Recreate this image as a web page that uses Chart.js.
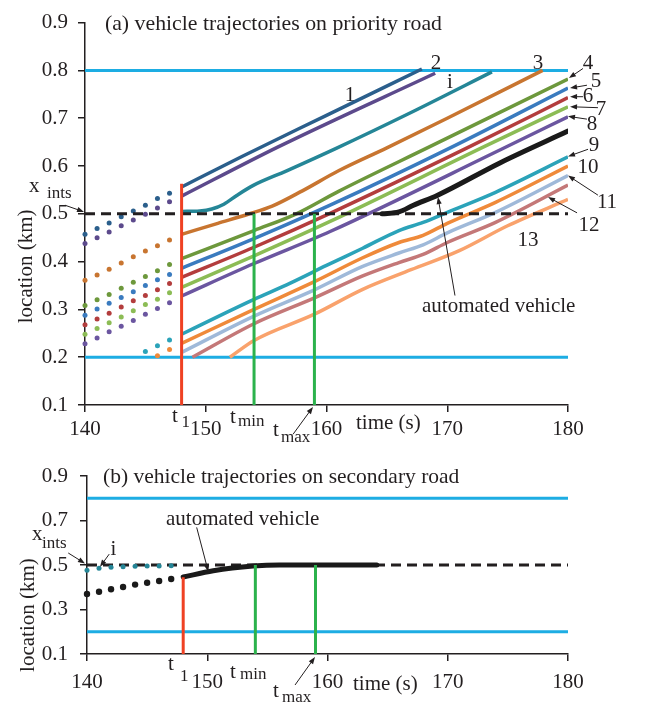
<!DOCTYPE html>
<html>
<head>
<meta charset="utf-8">
<script src="https://cdn.jsdelivr.net/npm/chart.js@4/dist/chart.umd.min.js"></script>
<style>
  body { margin: 0; background: #fff; }
  .panel { position: absolute; left: 0; }
  canvas { display: block; }
</style>
</head>
<body>
<div class="panel" style="top:0"><canvas id="priority" width="649" height="452"></canvas></div>
<div class="panel" style="top:440px"><canvas id="secondary" width="649" height="264"></canvas></div>
<script>
// time axis and location ticks
const xTicks = [140, 150, 160, 170, 180];
const yTicksTop = [0.1, 0.2, 0.3, 0.4, 0.5, 0.6, 0.7, 0.8, 0.9];
const yTicksBot = [0.1, 0.3, 0.5, 0.7, 0.9];

const tStart = 140, tEnd = 180;
const xInts = 0.5, roadIn = 0.2, roadOut = 0.8;
const t1 = 148, tMin = 154, tMax = 159;
const t1TopReach = 0.563, t1BotReach = 0.445;

// dotted history before t1 (one per second)
const dotTimes = [140, 141, 142, 143, 144, 145, 146, 147];
const dots1 = [0.457, 0.469, 0.481, 0.494, 0.506, 0.518, 0.532, 0.543];
const dots2 = [0.438, 0.450, 0.462, 0.475, 0.487, 0.499, 0.512, 0.525];
const dots3 = [0.361, 0.372, 0.384, 0.397, 0.410, 0.422, 0.433, 0.445];
const dots4 = [0.308, 0.320, 0.331, 0.344, 0.357, 0.369, 0.381, 0.394];
const dots5 = [0.288, 0.301, 0.313, 0.325, 0.337, 0.350, 0.362, 0.373];
const dots6 = [0.268, 0.280, 0.292, 0.305, 0.318, 0.329, 0.341, 0.354];
const dots7 = [0.248, 0.260, 0.272, 0.284, 0.297, 0.310, 0.321, 0.335];
const dots8 = [0.228, 0.240, 0.253, 0.265, 0.277, 0.290, 0.302, 0.314];
const dots9 = [null, null, null, null, null, 0.212, 0.224, 0.236];
const dots10 = [null, null, null, null, null, null, 0.203, 0.216];
const dotsI = [0.476, 0.485, 0.490, 0.492, 0.494, 0.495, 0.496, 0.497];
const dotsAV = [0.370, 0.380, 0.391, 0.401, 0.412, 0.420, 0.428, 0.437];

// trajectories after t1 (priority road)
const tr1T = [148, 153, 160, 167.9];            const tr1Y = [0.556, 0.620, 0.706, 0.803];
const tr2T = [148, 156, 169];                   const tr2Y = [0.537, 0.640, 0.794];
const trIT = [148, 149.5, 150.5, 151.5, 152.6, 153.9, 156.7, 160.8, 167, 173.7];
const trIY = [0.505, 0.506, 0.510, 0.520, 0.539, 0.559, 0.590, 0.637, 0.712, 0.797];
const tr3T = [148, 151, 153.5, 155.5, 158, 161, 165, 170, 177.9];
const tr3Y = [0.457, 0.480, 0.499, 0.516, 0.548, 0.590, 0.638, 0.700, 0.800];
const tr4T = [148, 154, 157.5, 161, 168.6, 180]; const tr4Y = [0.406, 0.465, 0.500, 0.547, 0.641, 0.782];
const tr5T = [148, 154, 160.3, 170.5, 180];     const tr5Y = [0.386, 0.448, 0.518, 0.641, 0.763];
const tr6T = [148, 154, 160.3, 171.9, 180];     const tr6Y = [0.367, 0.430, 0.501, 0.641, 0.743];
const tr7T = [148, 154, 160.3, 173.1, 180];     const tr7Y = [0.346, 0.412, 0.484, 0.641, 0.724];
const tr8T = [148, 154, 160.3, 174.4, 180];     const tr8Y = [0.328, 0.396, 0.463, 0.634, 0.703];
const trAVT = [164.6, 166, 167.2, 169.2, 174.4, 180];
const trAVY = [0.500, 0.504, 0.518, 0.539, 0.607, 0.673];
const tr9T = [148, 151, 154, 157, 160, 163, 166, 168, 170, 174, 180];
const tr9Y = [0.248, 0.285, 0.321, 0.355, 0.392, 0.428, 0.465, 0.482, 0.503, 0.545, 0.619];
const tr10T = [148, 154, 159, 163, 166, 168, 170, 174, 180];
const tr10Y = [0.229, 0.300, 0.358, 0.408, 0.440, 0.455, 0.480, 0.524, 0.600];
const tr11T = [148, 154, 159, 163, 166, 168, 170, 174, 180];
const tr11Y = [0.210, 0.286, 0.341, 0.390, 0.418, 0.435, 0.460, 0.503, 0.580];
const tr12T = [148.9, 154, 159, 163, 166, 168, 170, 174, 180];
const tr12Y = [0.200, 0.270, 0.324, 0.370, 0.398, 0.415, 0.440, 0.482, 0.560];
const tr13T = [152, 154, 159, 163, 167, 171, 175, 180];
const tr13Y = [0.200, 0.235, 0.290, 0.342, 0.383, 0.423, 0.475, 0.530];

// automated vehicle on the secondary road
const secAVT = [148, 150.5, 153.8, 156, 164.1];
const secAVY = [0.446, 0.474, 0.495, 0.500, 0.500];

const FONT = '"Liberation Serif", "Times New Roman", serif';
const INK = '#231f20';
const BLUE_ROAD = '#1dade3', RED = '#ef4123', GREEN = '#2bb24c';
const col = {
  v1: '#2b5f8c', v2: '#5c4a8c', vi: '#258697', v3: '#c87530', v4: '#6d983c',
  v5: '#3a7bbf', v6: '#b33d3d', v7: '#8cbc55', v8: '#6b56a0', av: '#1a1a1a',
  v9: '#2ba3b9', v10: '#ef8a3a', v11: '#9fb9d9', v12: '#c47878', v13: '#f9a26c'
};

function trace(ts, ys) {
  return ts.map((t, i) => ({ x: t, y: ys[i] })).filter(p => p.y !== null);
}
function lineSet(ts, ys, color, width, opts) {
  return Object.assign({
    data: trace(ts, ys), showLine: true, borderColor: color, borderWidth: width,
    pointRadius: 0, pointHoverRadius: 0, fill: false, cubicInterpolationMode: 'monotone'
  }, opts || {});
}
function straight(ts, ys, color, width, dash) {
  return lineSet(ts, ys, color, width, { cubicInterpolationMode: 'default', tension: 0, borderDash: dash || [] });
}
function dotSet(ts, ys, color, r) {
  return {
    data: trace(ts, ys), showLine: false, pointRadius: r, pointHoverRadius: r,
    pointBackgroundColor: color, pointBorderWidth: 0, clip: false
  };
}

function axes(yTicks, xPad, yPad, xH, yW) {
  const line = {
    grid: { drawOnChartArea: false, drawTicks: true, tickLength: 7, lineWidth: 1.5, color: INK, tickColor: INK },
    border: { color: INK, width: 1.5 }
  };
  return {
    x: Object.assign({
      type: 'linear', min: tStart, max: tEnd,
      afterBuildTicks: s => { s.ticks = xTicks.map(v => ({ value: v })); },
      afterFit: s => { s.height = xH; },
      ticks: { font: { family: FONT, size: 21 }, color: INK, padding: xPad, maxRotation: 0, callback: v => String(v) }
    }, line),
    y: Object.assign({
      type: 'linear', min: 0.1, max: 0.9,
      afterBuildTicks: s => { s.ticks = yTicks.map(v => ({ value: v })); },
      afterFit: s => { s.width = yW; },
      ticks: { font: { family: FONT, size: 21 }, color: INK, padding: yPad, callback: v => v.toFixed(1) }
    }, line)
  };
}

function arrow(ctx, x0, y0, x1, y1) {
  const a = Math.atan2(y1 - y0, x1 - x0), L = 7, W = 2.6;
  ctx.beginPath();
  ctx.moveTo(x0, y0);
  ctx.lineTo(x1 - Math.cos(a) * L * 0.8, y1 - Math.sin(a) * L * 0.8);
  ctx.stroke();
  ctx.beginPath();
  ctx.moveTo(x1, y1);
  ctx.lineTo(x1 - Math.cos(a) * L - Math.sin(a) * W, y1 - Math.sin(a) * L + Math.cos(a) * W);
  ctx.lineTo(x1 - Math.cos(a) * L + Math.sin(a) * W, y1 - Math.sin(a) * L - Math.cos(a) * W);
  ctx.closePath();
  ctx.fill();
}

// texts: [t, km, text, size, align] ; arrows: [t0, km0, t1, km1]
function notes(id, texts, arrows, yTitleAt) {
  return {
    id: id,
    afterDraw(chart) {
      const ctx = chart.ctx, sx = chart.scales.x, sy = chart.scales.y;
      ctx.save();
      ctx.fillStyle = INK;
      ctx.strokeStyle = INK;
      ctx.lineWidth = 1;
      ctx.textBaseline = 'alphabetic';
      texts.forEach(([t, y, s, size, align]) => {
        ctx.font = size + 'px ' + FONT;
        ctx.textAlign = align || 'left';
        ctx.fillText(s, sx.getPixelForValue(t), sy.getPixelForValue(y));
      });
      arrows.forEach(([ta, ya, tb, yb]) => arrow(ctx,
        sx.getPixelForValue(ta), sy.getPixelForValue(ya), sx.getPixelForValue(tb), sy.getPixelForValue(yb)));
      ctx.font = '21px ' + FONT;
      ctx.textAlign = 'center';
      ctx.translate(chart.chartArea.left - 53, sy.getPixelForValue(yTitleAt));
      ctx.rotate(-Math.PI / 2);
      ctx.fillText('location (km)', 0, 0);
      ctx.restore();
    }
  };
}

const topTexts = [
  [141.65, 0.884, '(a) vehicle trajectories on priority road', 21.8, 'left'],
  [161.95, 0.737, '1', 21, 'center'], [169.07, 0.802, '2', 21, 'center'],
  [170.23, 0.763, 'i', 21, 'center'], [177.52, 0.802, '3', 21, 'center'],
  [181.66, 0.802, '4', 21, 'center'], [182.32, 0.765, '5', 21, 'center'],
  [181.66, 0.733, '6', 21, 'center'], [182.73, 0.706, '7', 21, 'center'],
  [181.99, 0.676, '8', 21, 'center'], [182.15, 0.631, '9', 21, 'center'],
  [181.66, 0.586, '10', 21, 'center'], [183.23, 0.512, '11', 21, 'center'],
  [181.74, 0.463, '12', 21, 'center'], [176.69, 0.433, '13', 21, 'center'],
  [167.91, 0.294, 'automated vehicle', 21, 'left'],
  [135.36, 0.545, 'x', 21, 'left'], [136.85, 0.533, 'ints', 17, 'left'],
  [147.2, 0.0653, 't', 21, 'left'], [148.0, 0.053, '1', 17, 'left'],
  [152.01, 0.0633, 't', 21, 'left'], [152.67, 0.057, 'min', 17, 'left'],
  [155.57, 0.0347, 't', 21, 'left'], [156.23, 0.0224, 'max', 17, 'left'],
  [162.44, 0.049, 'time (s)', 21, 'left']
];
const topArrows = [
  [138.34, 0.518, 139.92, 0.504],
  [181.24, 0.804, 180.08, 0.784], [181.57, 0.769, 180.17, 0.763],
  [181.24, 0.745, 180.17, 0.745], [182.48, 0.722, 180.17, 0.724],
  [181.57, 0.698, 180.0, 0.704], [181.66, 0.635, 180.0, 0.620],
  [182.48, 0.539, 180.0, 0.580], [180.75, 0.502, 178.35, 0.535],
  [170.64, 0.329, 169.23, 0.535],
  [157.23, 0.0388, 158.88, 0.0959]
];

const botTexts = [
  [141.33, 0.8685, '(b) vehicle trajectories on secondary road', 21.5, 'left'],
  [146.57, 0.68, 'automated vehicle', 21, 'left'],
  [135.43, 0.6124, 'x', 21, 'left'], [136.26, 0.5764, 'ints', 17, 'left'],
  [142.2, 0.545, 'i', 21, 'center'],
  [146.74, 0.0281, 't', 21, 'left'], [147.73, -0.0213, '1', 17, 'left'],
  [151.89, -0.0079, 't', 21, 'left'], [152.72, -0.0124, 'min', 17, 'left'],
  [155.47, -0.0933, 't', 21, 'left'], [156.22, -0.1157, 'max', 17, 'left'],
  [162.12, -0.0618, 'time (s)', 21, 'left']
];
const botArrows = [
  [149.12, 0.669, 150.09, 0.47],
  [138.44, 0.554, 139.83, 0.507],
  [141.85, 0.549, 141.08, 0.492],
  [157.30, -0.0393, 158.96, 0.0865]
];

const span = [tStart, tEnd];

new Chart(document.getElementById('priority'), {
  type: 'scatter',
  data: {
    datasets: [
      straight([t1, t1], [0.1, t1TopReach], RED, 3),
      straight([tMin, tMin], [0.1, xInts], GREEN, 3),
      straight([tMax, tMax], [0.1, xInts], GREEN, 3),
      lineSet(trAVT, trAVY, col.av, 5, { borderCapStyle: 'round' }),
      straight(span, [xInts, xInts], INK, 3, [10, 6]),
      lineSet(tr1T, tr1Y, col.v1, 3.5),
      lineSet(tr2T, tr2Y, col.v2, 3.5),
      lineSet(trIT, trIY, col.vi, 3.5),
      lineSet(tr3T, tr3Y, col.v3, 3.5),
      lineSet(tr4T, tr4Y, col.v4, 3.5),
      lineSet(tr5T, tr5Y, col.v5, 3.5),
      lineSet(tr6T, tr6Y, col.v6, 3.5),
      lineSet(tr7T, tr7Y, col.v7, 3.5),
      lineSet(tr8T, tr8Y, col.v8, 3.5),
      lineSet(tr9T, tr9Y, col.v9, 3.5),
      lineSet(tr10T, tr10Y, col.v10, 3.5),
      lineSet(tr11T, tr11Y, col.v11, 3.5),
      lineSet(tr12T, tr12Y, col.v12, 3.5),
      lineSet(tr13T, tr13Y, col.v13, 3.5),
      dotSet(dotTimes, dots1, col.v1, 2.5),
      dotSet(dotTimes, dots2, col.v2, 2.5),
      dotSet(dotTimes, dots3, col.v3, 2.5),
      dotSet(dotTimes, dots4, col.v4, 2.5),
      dotSet(dotTimes, dots5, col.v5, 2.5),
      dotSet(dotTimes, dots6, col.v6, 2.5),
      dotSet(dotTimes, dots7, col.v7, 2.5),
      dotSet(dotTimes, dots8, col.v8, 2.5),
      dotSet(dotTimes, dots9, col.v9, 2.5),
      dotSet(dotTimes, dots10, col.v10, 2.5),
      straight(span, [roadOut, roadOut], BLUE_ROAD, 3),
      straight(span, [roadIn, roadIn], BLUE_ROAD, 3)
    ]
  },
  options: {
    responsive: false,
    animation: false,
    layout: { padding: { top: 13, right: 81, left: 0, bottom: 0 } },
    plugins: { legend: { display: false }, tooltip: { enabled: false } },
    scales: axes(yTicksTop, 5, 10, 47, 85)
  },
  plugins: [notes('topNotes', topTexts, topArrows, 0.39)]
});

new Chart(document.getElementById('secondary'), {
  type: 'scatter',
  data: {
    datasets: [
      straight([t1, t1], [0.1, t1BotReach], RED, 3),
      straight([tMin, tMin], [0.1, xInts], GREEN, 3),
      straight([tMax, tMax], [0.1, xInts], GREEN, 3),
      lineSet(secAVT, secAVY, col.av, 5, { borderCapStyle: 'round' }),
      dotSet(dotTimes, dotsAV, col.av, 3.2),
      dotSet(dotTimes, dotsI, col.vi, 2.5),
      straight(span, [xInts, xInts], INK, 3, [10, 6]),
      straight(span, [roadOut, roadOut], BLUE_ROAD, 3),
      straight(span, [roadIn, roadIn], BLUE_ROAD, 3)
    ]
  },
  options: {
    responsive: false,
    animation: false,
    layout: { padding: { top: 36, right: 81, left: 0, bottom: 0 } },
    plugins: { legend: { display: false }, tooltip: { enabled: false } },
    scales: axes(yTicksBot, 9, 12, 50, 87)
  },
  plugins: [notes('botNotes', botTexts, botArrows, 0.275)]
});
</script>
</body>
</html>
